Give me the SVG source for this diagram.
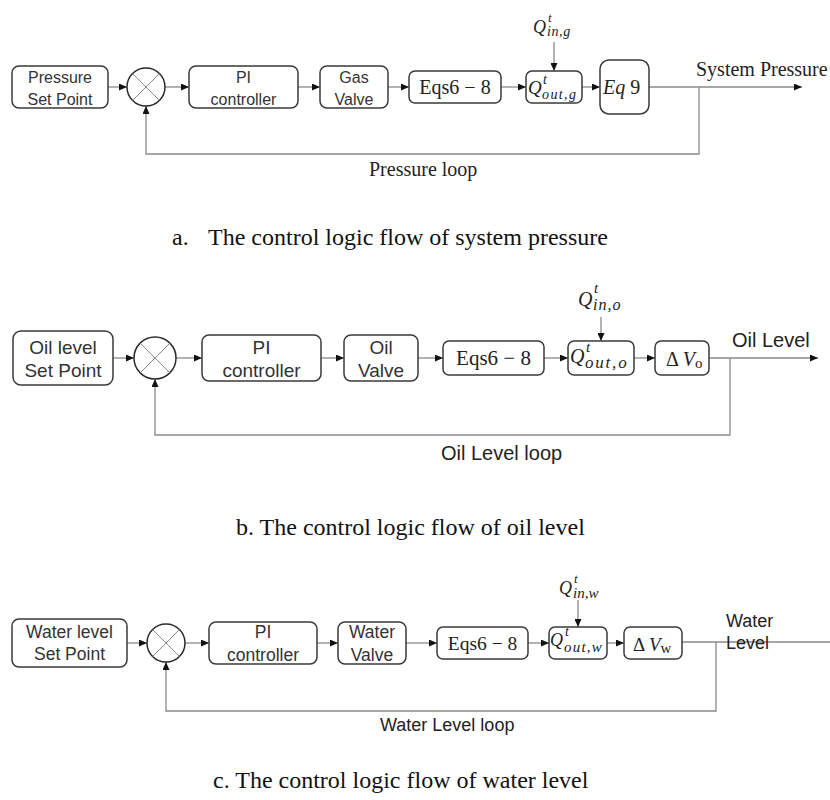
<svg xmlns="http://www.w3.org/2000/svg" width="830" height="800" viewBox="0 0 830 800">
<style>
.box{fill:#fff;stroke:#3a3a3a;stroke-width:1.5}
.sum{fill:#fff;stroke:#2a2a2a;stroke-width:1.5}
.x{stroke:#888;stroke-width:1}
.conn{fill:none;stroke:#8a8a8a;stroke-width:1.3}
.s{font-family:"Liberation Sans",Arial,sans-serif;fill:#333;text-anchor:middle}
.sl{font-family:"Liberation Sans",Arial,sans-serif;fill:#222}
.r{font-family:"Liberation Serif","Times New Roman",serif;fill:#222}
.m{font-family:"Liberation Serif","Times New Roman",serif;font-style:italic;fill:#222}
.cap{font-family:"Liberation Serif","Times New Roman",serif;fill:#111;font-size:24px}
</style>
<defs>
<marker id="ah" markerUnits="userSpaceOnUse" markerWidth="8" markerHeight="7" refX="8" refY="3.5" orient="auto">
<path d="M0,0 L8,3.5 L0,7 z" fill="#111"/>
</marker>
</defs>

<!-- connectors -->
<g id="connectors" class="conn" marker-end="url(#ah)">
<!-- a -->
<line x1="108" y1="87" x2="127" y2="87"/>
<line x1="165" y1="87" x2="189" y2="87"/>
<line x1="298" y1="87" x2="320" y2="87"/>
<line x1="388" y1="87" x2="409" y2="87"/>
<line x1="501" y1="87" x2="526" y2="87"/>
<line x1="582" y1="87" x2="600" y2="87"/>
<line x1="649" y1="87" x2="802" y2="87"/>
<path d="M699 87 V154 H146 V106"/>
<line x1="554" y1="42" x2="554" y2="71"/>
<!-- b -->
<line x1="113" y1="358" x2="134" y2="358"/>
<line x1="176" y1="358" x2="202" y2="358"/>
<line x1="321" y1="358" x2="344" y2="358"/>
<line x1="418" y1="358" x2="443" y2="358"/>
<line x1="544" y1="358" x2="568" y2="358"/>
<line x1="634" y1="358" x2="655" y2="358"/>
<line x1="709" y1="358" x2="818" y2="358"/>
<path d="M730 358 V435 H155 V379"/>
<line x1="601" y1="317" x2="601" y2="341"/>
<!-- c -->
<line x1="127" y1="643" x2="147" y2="643"/>
<line x1="185" y1="643" x2="209" y2="643"/>
<line x1="317" y1="643" x2="338" y2="643"/>
<line x1="406" y1="643" x2="437" y2="643"/>
<line x1="528" y1="643" x2="549" y2="643"/>
<line x1="607" y1="643" x2="624" y2="643"/>
<path d="M716 642 V711 H166 V662"/>
<line x1="578" y1="600" x2="578" y2="627"/>
<line x1="682" y1="642" x2="830" y2="642" marker-end="none"/>
</g>

<!-- ===== a ===== -->
<g id="a-setpoint"><rect class="box" x="12" y="66" width="96" height="42" rx="7"/>
<text class="s" font-size="16" x="60" y="83">Pressure</text><text class="s" font-size="16" x="60" y="105">Set Point</text></g>
<g id="a-sum"><circle class="sum" cx="146" cy="87" r="19"/>
<line class="x" x1="132.6" y1="73.6" x2="159.4" y2="100.4"/><line class="x" x1="159.4" y1="73.6" x2="132.6" y2="100.4"/></g>
<g id="a-pi"><rect class="box" x="189" y="66" width="109" height="42" rx="7"/>
<text class="s" font-size="16" x="243.5" y="83">PI</text><text class="s" font-size="16" x="243.5" y="105">controller</text></g>
<g id="a-valve"><rect class="box" x="320" y="66" width="68" height="42" rx="7"/>
<text class="s" font-size="16" x="354" y="83">Gas</text><text class="s" font-size="16" x="354" y="105">Valve</text></g>
<g id="a-eqs"><rect class="box" x="409" y="71" width="92" height="32" rx="6"/>
<text class="r" font-size="20" x="455" y="94" text-anchor="middle">Eqs6 − 8</text></g>
<g id="a-qout"><rect class="box" x="526" y="71" width="56" height="32" rx="6"/>
<text class="m" font-size="19" x="528" y="94">Q<tspan font-size="14" x="543" y="84">t</tspan><tspan font-size="14" x="542" y="99" letter-spacing="1.4">out,g</tspan></text></g>
<g id="a-eq9"><rect class="box" x="600" y="60" width="49" height="54" rx="9"/>
<text class="r" font-size="20" x="603" y="94"><tspan font-style="italic">Eq</tspan> 9</text></g>
<g id="a-qin"><text class="m" font-size="18" x="533" y="33">Q<tspan font-size="13" x="548" y="22">t</tspan><tspan font-size="14" x="547" y="36" letter-spacing="0.6">in,g</tspan></text></g>
<g id="a-out"><text class="r" font-size="20" x="696" y="76">System Pressure</text></g>
<g id="a-loop"><text class="r" font-size="20" x="369" y="176">Pressure loop</text></g>
<text class="cap" x="172" y="245">a.</text>
<text class="cap" x="208" y="245">The control logic flow of system pressure</text>

<!-- ===== b ===== -->
<g id="b-setpoint"><rect class="box" x="13" y="331" width="100" height="54" rx="8"/>
<text class="s" font-size="19" x="63" y="354">Oil level</text><text class="s" font-size="19" x="63" y="377">Set Point</text></g>
<g id="b-sum"><circle class="sum" cx="155" cy="358" r="21"/>
<line class="x" x1="140.2" y1="343.2" x2="169.8" y2="372.8"/><line class="x" x1="169.8" y1="343.2" x2="140.2" y2="372.8"/></g>
<g id="b-pi"><rect class="box" x="202" y="335" width="119" height="46" rx="7"/>
<text class="s" font-size="19" x="261.5" y="354">PI</text><text class="s" font-size="19" x="261.5" y="377">controller</text></g>
<g id="b-valve"><rect class="box" x="344" y="335" width="74" height="46" rx="7"/>
<text class="s" font-size="19" x="381" y="354">Oil</text><text class="s" font-size="19" x="381" y="377">Valve</text></g>
<g id="b-eqs"><rect class="box" x="443" y="341" width="101" height="34" rx="6"/>
<text class="r" font-size="21" x="493.5" y="365" text-anchor="middle">Eqs6 − 8</text></g>
<g id="b-qout"><rect class="box" x="568" y="341" width="66" height="34" rx="6"/>
<text class="m" font-size="20" x="570" y="363">Q<tspan font-size="15" x="586" y="352">t</tspan><tspan font-size="17" x="585" y="368" letter-spacing="1.8">out,o</tspan></text></g>
<g id="b-dv"><rect class="box" x="655" y="341" width="54" height="34" rx="6"/>
<text class="r" font-size="20" x="666" y="366">Δ <tspan font-style="italic">V</tspan><tspan font-size="15" dy="2">o</tspan></text></g>
<g id="b-qin"><text class="m" font-size="20" x="578" y="306">Q<tspan font-size="15" x="594" y="293">t</tspan><tspan font-size="16" x="593" y="310" letter-spacing="1">in,o</tspan></text></g>
<g id="b-out"><text class="sl" font-size="20" x="732" y="347">Oil Level</text></g>
<g id="b-loop"><text class="sl" font-size="20" x="441" y="460">Oil Level loop</text></g>
<text class="cap" x="236" y="535">b. The control logic flow of oil level</text>

<!-- ===== c ===== -->
<g id="c-setpoint"><rect class="box" x="12" y="619" width="115" height="48" rx="7"/>
<text class="s" font-size="17.5" x="69.5" y="638">Water level</text><text class="s" font-size="17.5" x="69.5" y="660">Set Point</text></g>
<g id="c-sum"><circle class="sum" cx="166" cy="643" r="19"/>
<line class="x" x1="152.6" y1="629.6" x2="179.4" y2="656.4"/><line class="x" x1="179.4" y1="629.6" x2="152.6" y2="656.4"/></g>
<g id="c-pi"><rect class="box" x="209" y="622" width="108" height="42" rx="7"/>
<text class="s" font-size="17.5" x="263" y="638">PI</text><text class="s" font-size="17.5" x="263" y="661">controller</text></g>
<g id="c-valve"><rect class="box" x="338" y="622" width="68" height="42" rx="7"/>
<text class="s" font-size="17.5" x="372" y="638">Water</text><text class="s" font-size="17.5" x="372" y="661">Valve</text></g>
<g id="c-eqs"><rect class="box" x="437" y="627" width="91" height="32" rx="6"/>
<text class="r" font-size="19.5" x="482.5" y="650" text-anchor="middle">Eqs6 − 8</text></g>
<g id="c-qout"><rect class="box" x="549" y="627" width="58" height="32" rx="6"/>
<text class="m" font-size="18" x="550" y="646">Q<tspan font-size="14" x="565" y="636">t</tspan><tspan font-size="15" x="564" y="652" letter-spacing="1.2">out,w</tspan></text></g>
<g id="c-dv"><rect class="box" x="624" y="627" width="58" height="32" rx="6"/>
<text class="r" font-size="19" x="633" y="651">Δ <tspan font-style="italic">V</tspan><tspan font-size="15" dy="2">w</tspan></text></g>
<g id="c-qin"><text class="m" font-size="18" x="559" y="594">Q<tspan font-size="13" x="574" y="583">t</tspan><tspan font-size="15" x="573" y="598">in,w</tspan></text></g>
<g id="c-out"><text class="sl" font-size="18" x="726" y="627">Water</text><text class="sl" font-size="18" x="726" y="649">Level</text></g>
<g id="c-loop"><text class="sl" font-size="18" x="380" y="731">Water Level loop</text></g>
<text class="cap" x="213" y="788">c. The control logic flow of water level</text>
</svg>
